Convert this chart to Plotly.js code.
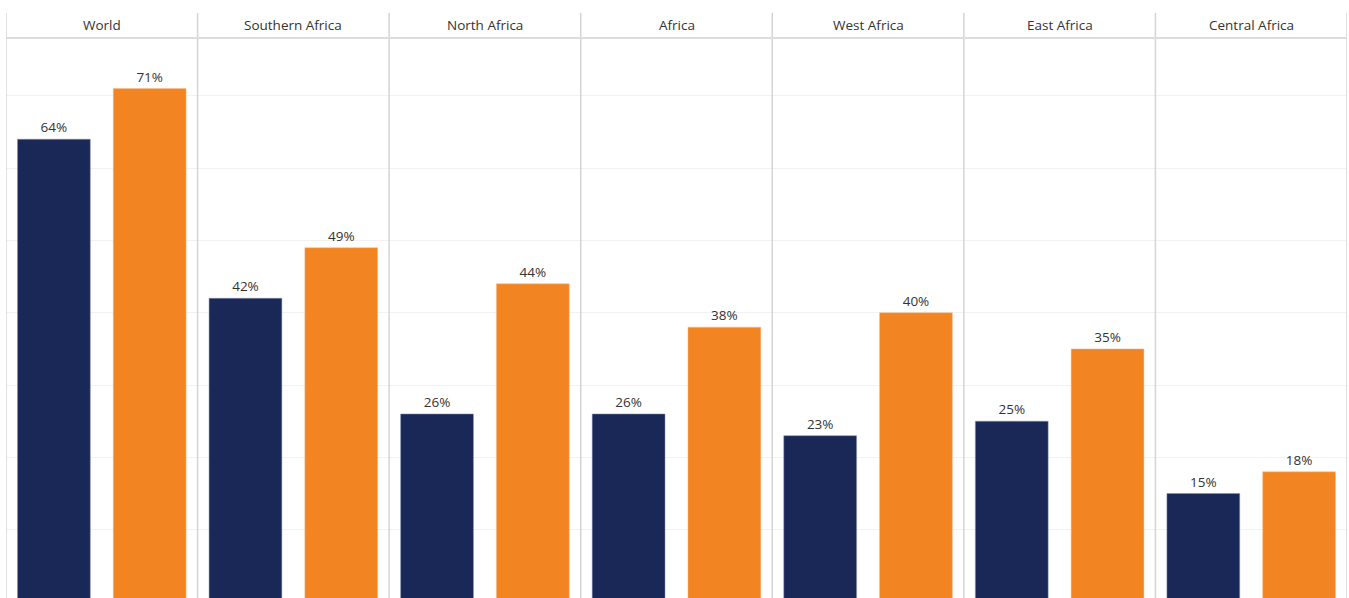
<!DOCTYPE html>
<html>
<head>
<meta charset="utf-8">
<script src="https://cdn.plot.ly/plotly-3.0.1.min.js"></script>
<style>html,body{margin:0;padding:0;background:#fff;}#chart{width:1349px;height:598px;}</style>
</head>
<body>
<div id="chart"></div>
<script>
const regions = ["World", "Southern Africa", "North Africa", "Africa", "West Africa", "East Africa", "Central Africa"];
const seriesA = [64, 42, 26, 26, 23, 25, 15];
const seriesB = [71, 49, 44, 38, 40, 35, 18];

const FONT = "Open Sans, Noto Sans, sans-serif";
const navy = "#1a2857";
const orange = "#f28522";

const traces = [
  {type: "bar", x: regions, y: seriesA, name: "A", marker: {color: navy, line: {color: "#8790b0", width: 0.5}},
   text: seriesA.map(v => v + "%"), textposition: "outside", cliponaxis: false,
   textfont: {family: FONT, size: 13.5, color: "#333"}, hoverinfo: "x+y"},
  {type: "bar", x: regions, y: seriesB, name: "B", marker: {color: orange, line: {color: "#f7b98a", width: 0.5}},
   text: seriesB.map(v => v + "%"), textposition: "outside", cliponaxis: false,
   textfont: {family: FONT, size: 13.5, color: "#333"}, hoverinfo: "x+y"}
];

const shapes = [];
for (let i = 0; i <= regions.length; i++) {
  shapes.push({type: "line", xref: "x", yref: "paper", x0: i - 0.5, x1: i - 0.5, y0: 0, y1: 1 + 25/560,
    line: {color: "#d4d4d4", width: 1.5}});
}
shapes.push({type: "line", xref: "paper", yref: "paper", x0: 0, x1: 1, y0: 1, y1: 1, line: {color: "#dcdcdc", width: 2}});

const annotations = regions.map(r => ({
  x: r, xref: "x", y: 1, yref: "paper", yanchor: "middle", yshift: 13, showarrow: false,
  text: r, font: {family: FONT, size: 13.5, color: "#333"}
}));

const layout = {
  width: 1349, height: 598,
  margin: {l: 6, r: 2, t: 38, b: 0, pad: 0},
  paper_bgcolor: "#fff", plot_bgcolor: "#fff",
  showlegend: false,
  barmode: "group", bargap: 0, bargroupgap: 0.24,
  xaxis: {type: "category", range: [-0.5, 6.5], showticklabels: false, showgrid: false, zeroline: false, showline: false, ticks: ""},
  yaxis: {range: [0.55, 78], dtick: 10, showticklabels: false, showgrid: true, gridcolor: "#f2f2f2", gridwidth: 1, zeroline: false, showline: false, ticks: ""},
  shapes: shapes,
  annotations: annotations,
  font: {family: FONT}
};

Plotly.newPlot("chart", traces, layout, {displayModeBar: false, staticPlot: true});
</script>
</body>
</html>
